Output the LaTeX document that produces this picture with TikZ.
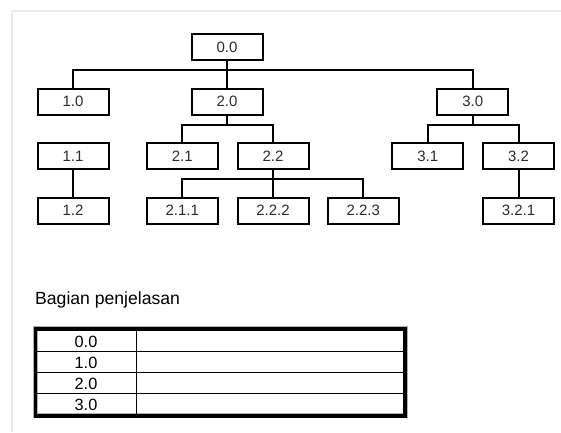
\documentclass[tikz,border=0pt]{standalone}
\usepackage{fontspec}
\setmainfont{Liberation Sans}
\definecolor{framegrey}{HTML}{EBEBEB}
\definecolor{boxtext}{HTML}{2B2B2B}
\definecolor{halo}{HTML}{B0B0B0}
\begin{document}
\begin{tikzpicture}[x=1pt,y=-1pt,
  hbox/.style={draw, line width=2pt, minimum width=71pt, minimum height=26pt, inner sep=0pt,
    text=boxtext, font=\fontsize{15}{15}\selectfont},
  conn/.style={line width=2pt},
  celltext/.style={font=\fontsize{16.3}{16.3}\selectfont, inner sep=0pt}]
\useasboundingbox (0,0) rectangle (561,432);
\fill[white] (0,0) rectangle (561,432);
\draw[framegrey, line width=2pt] (12,432) -- (12,10.5) -- (561,10.5);

% level 0
\node[hbox] (n00) at (227,47.3) {0.0};
% level 1
\node[hbox] (n10) at (73,101.5) {1.0};
\node[hbox] (n20) at (227,101.5) {2.0};
\node[hbox] (n30) at (472.7,101.5) {3.0};
% level 2
\node[hbox] (n11) at (73,156) {1.1};
\node[hbox] (n21) at (182.2,156) {2.1};
\node[hbox] (n22) at (273,156) {2.2};
\node[hbox] (n31) at (427.7,156) {3.1};
\node[hbox] (n32) at (518.5,156) {3.2};
% level 3
\node[hbox] (n12) at (73,210.7) {1.2};
\node[hbox] (n211) at (182.2,210.7) {2.1.1};
\node[hbox] (n222) at (273,210.7) {2.2.2};
\node[hbox] (n223) at (363.3,210.7) {2.2.3};
\node[hbox] (n321) at (518.5,210.7) {3.2.1};

\coordinate (b1) at (0,70);
\coordinate (b2) at (0,125);
\coordinate (b4) at (0,179.3);

\draw[conn] (n10.north) -- (n10.north |- b1) -- (n30.north |- b1) -- (n30.north);
\draw[conn] (n00.south) -- (n20.north);
\draw[conn] (n20.south) -- (n20.south |- b2);
\draw[conn] (n21.north) -- (n21.north |- b2) -- (n22.north |- b2) -- (n22.north);
\draw[conn] (n30.south) -- (n30.south |- b2);
\draw[conn] (n31.north) -- (n31.north |- b2) -- (n32.north |- b2) -- (n32.north);
\draw[conn] (n11.south) -- (n12.north);
\draw[conn] (n22.south) -- (n222.north);
\draw[conn] (n211.north) -- (n211.north |- b4) -- (n223.north |- b4) -- (n223.north);
\draw[conn] (n32.south) -- (n321.north);

% caption
\node[anchor=base west, inner sep=0pt, font=\fontsize{17.6}{17.6}\selectfont] (cap) at (35,304) {Bagian penjelasan};

% table
\coordinate (tl) at (35.3,328.7);
\coordinate (br) at (405.2,415.7);
\draw[halo, line width=5pt] (tl) rectangle (br);
\draw[line width=1.2pt] (136.7,328.7) -- (136.7,415.7);
\draw[line width=1.2pt] (35.3,351.5) -- (405.2,351.5);
\draw[line width=1.2pt] (35.3,372.5) -- (405.2,372.5);
\draw[line width=1.2pt] (35.3,393.8) -- (405.2,393.8);
\draw[line width=3.6pt] (tl) rectangle (br);
\node[celltext] (r0) at (86,341.5) {0.0};
\node[celltext] (r1) at (86,362.5) {1.0};
\node[celltext] (r2) at (86,383.5) {2.0};
\node[celltext] (r3) at (86,404.5) {3.0};
\end{tikzpicture}
\end{document}
